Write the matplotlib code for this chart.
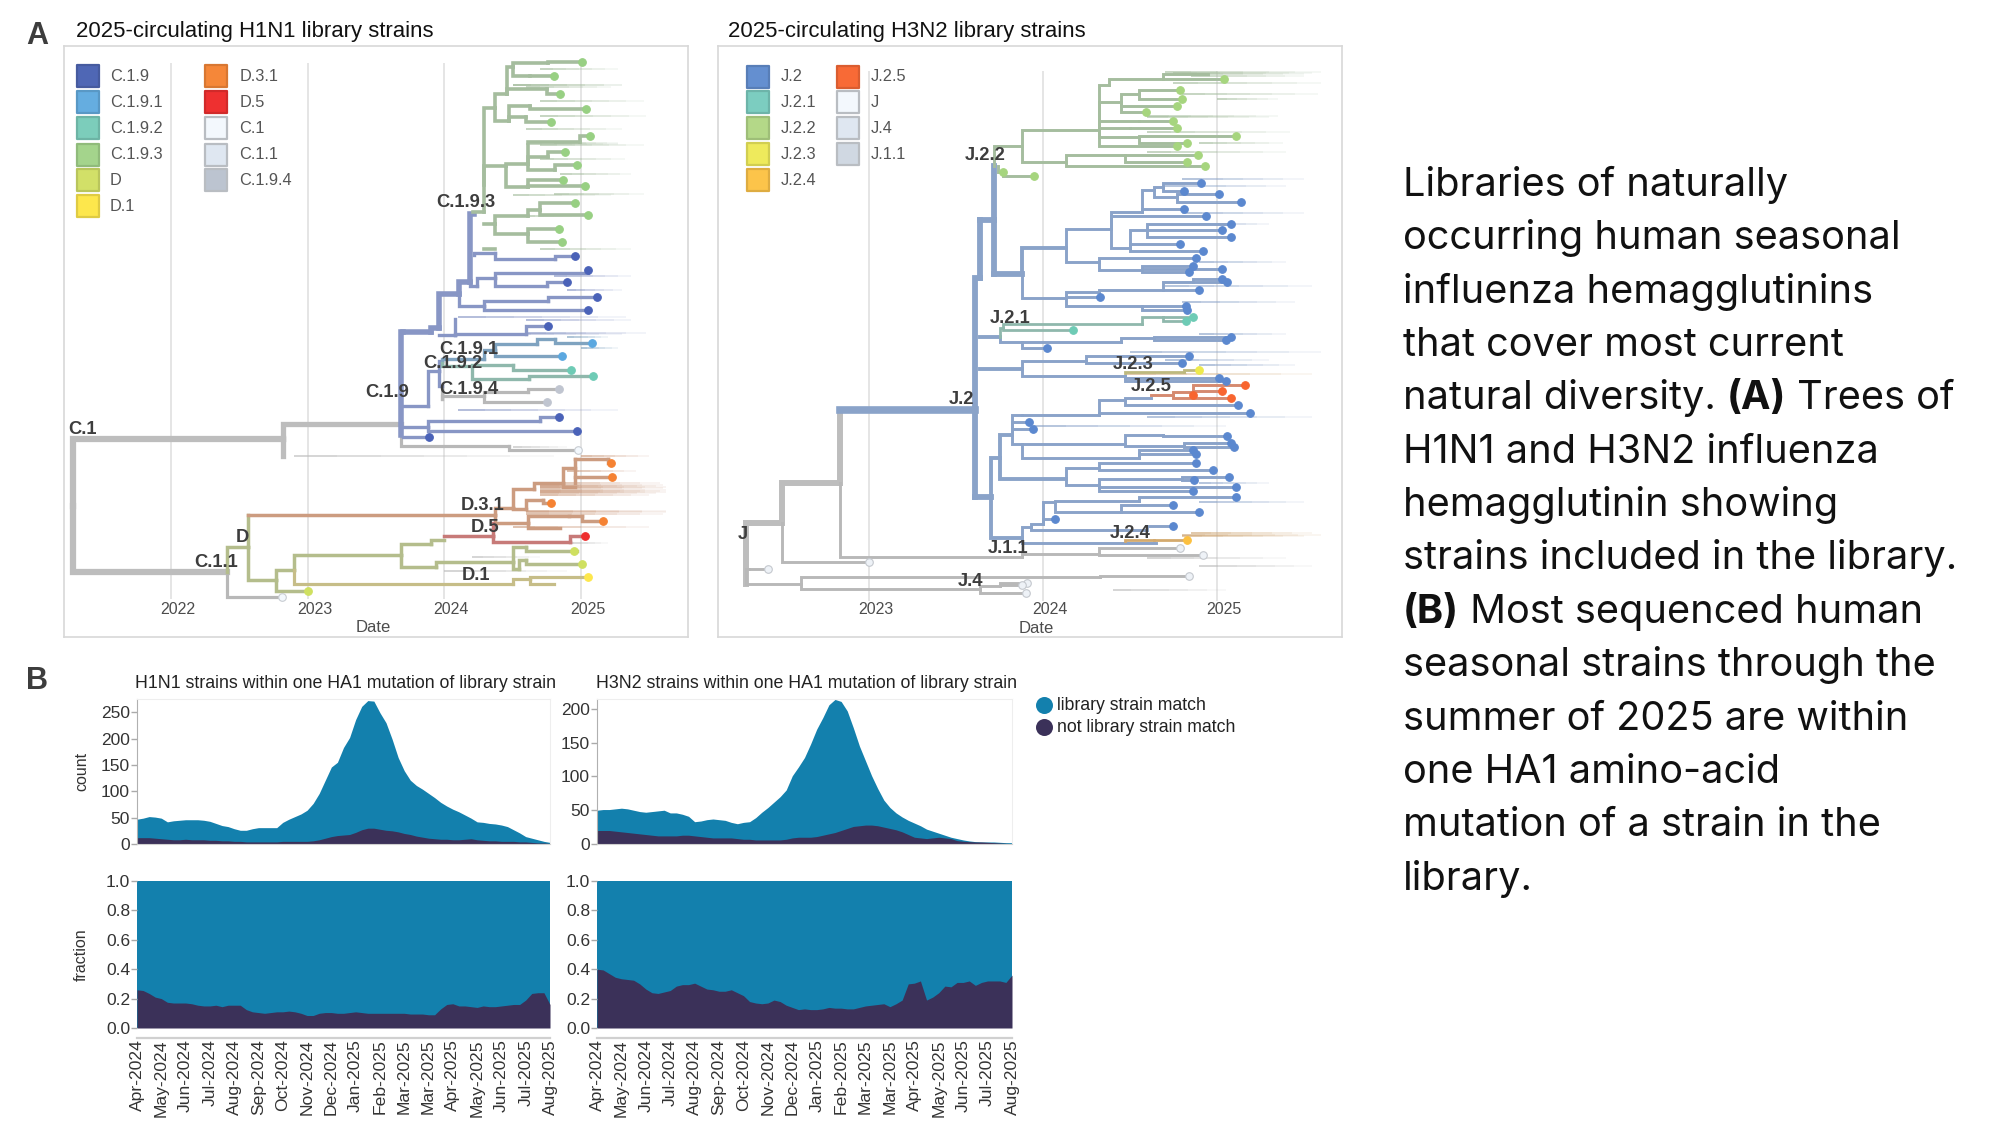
import matplotlib
matplotlib.use('Agg')
import matplotlib.pyplot as plt
import numpy as np

plt.rcParams['font.family'] = ['Liberation Sans', 'DejaVu Sans']

W, H = 2000, 1125

# ---- panel B data: one value per week-ish step, four steps between month labels
month_labels = ['Apr-2024', 'May-2024', 'Jun-2024', 'Jul-2024', 'Aug-2024', 'Sep-2024', 'Oct-2024', 'Nov-2024',
                'Dec-2024', 'Jan-2025', 'Feb-2025', 'Mar-2025', 'Mar-2025', 'Apr-2025', 'May-2025', 'Jun-2025',
                'Jul-2025', 'Aug-2025']

h1_total = [47, 49, 52, 51, 49, 42, 44, 45, 46, 46, 46, 45, 43, 39, 35, 33, 29, 26, 26, 29, 31, 31, 31, 31,
            41, 47, 52, 57, 64, 77, 96, 121, 146, 155, 183, 202, 236, 261, 272, 271, 249, 230, 199, 164,
            139, 121, 111, 104, 96, 88, 79, 72, 66, 61, 55, 49, 42, 41, 39, 38, 36, 33, 27, 21, 14, 11, 8, 5, 3]
h1_nomatch = [12, 12, 12, 11, 10, 9, 8, 8, 9, 8, 8, 8, 7, 7, 6, 6, 5, 5, 4, 4, 4, 4, 4, 4,
              5, 5, 5, 5, 5, 6, 8, 11, 14, 16, 17, 18, 22, 27, 30, 30, 28, 26, 25, 23,
              20, 18, 15, 13, 11, 10, 9, 9, 8, 8, 9, 10, 8, 7, 6, 6, 5, 5, 5, 4, 4, 3, 2, 2, 1]
h1_fraction = [.26, .255, .235, .21, .20, .175, .17, .17, .17, .165, .155, .15, .15, .155, .145, .155,
               .155, .155, .125, .11, .105, .10, .105, .11, .11, .115, .11, .10, .085, .085, .10, .105,
               .105, .10, .10, .105, .11, .105, .10, .10, .10, .10, .10, .10, .10, .095, .095, .095,
               .09, .09, .13, .16, .165, .15, .15, .145, .14, .15, .145, .145, .15, .155, .16, .16,
               .19, .235, .24, .24, .16]

h3_total = [50, 51, 51, 52, 53, 52, 50, 48, 47, 48, 49, 50, 46, 46, 44, 41, 33, 34, 36, 37, 36, 35, 32, 30,
            32, 33, 39, 47, 54, 62, 70, 80, 101, 114, 128, 148, 170, 187, 206, 214, 211, 197, 172, 145,
            123, 101, 82, 65, 54, 46, 40, 35, 31, 27, 22, 19, 16, 13, 10, 8, 6, 4.5, 3.5, 3, 3, 3, 2.5, 2, 2]
h3_nomatch = [20, 20, 20, 19, 18, 17, 16, 15, 14, 13, 12, 12, 12, 12, 13, 13, 12, 11, 10, 9, 9, 9, 9, 8,
              7, 7, 6, 6, 6, 6, 6, 7, 9, 10, 10, 10, 11, 13, 15, 17, 20, 23, 26, 27, 28, 28, 27, 25,
              23, 21, 18, 14, 10, 9, 8, 9, 10, 9, 8, 5, 4, 3.5, 3, 3, 2.5, 2, 1.5, 1, 0.5]
h3_fraction = [.40, .395, .37, .345, .335, .33, .325, .30, .265, .24, .235, .245, .255, .285, .295, .295,
               .305, .285, .265, .26, .25, .25, .26, .24, .22, .18, .17, .165, .17, .19, .18, .155,
               .14, .125, .13, .125, .125, .13, .14, .135, .135, .13, .13, .14, .15, .155, .16, .165,
               .145, .165, .19, .30, .305, .32, .19, .21, .24, .285, .28, .31, .31, .32, .29, .31,
               .32, .32, .32, .31, .36]

# ---- panel A data: branches are (parent date, parent row, date, row), tips are (date, row),
# tails are (start date, end date, row)
h1_years = [2022, 2023, 2024, 2025]
h3_years = [2023, 2024, 2025]

h1_legend_left = ['C.1.9', 'C.1.9.1', 'C.1.9.2', 'C.1.9.3', 'D', 'D.1']
h1_legend_left_colors = ['#4f67b5', '#65ade0', '#7ccdbb', '#a4d48c', '#d2e068', '#fde74c']
h1_legend_right = ['D.3.1', 'D.5', 'C.1', 'C.1.1', 'C.1.9.4']
h1_legend_right_colors = ['#f58739', '#ee3030', '#f3f8fd', '#dfe7f1', '#bcc4d0']
h3_legend_left = ['J.2', 'J.2.1', 'J.2.2', 'J.2.3', 'J.2.4']
h3_legend_left_colors = ['#648fd0', '#7ccdc0', '#b4d888', '#eeea5c', '#fcc44a']
h3_legend_right = ['J.2.5', 'J', 'J.4', 'J.1.1']
h3_legend_right_colors = ['#f86a36', '#f3f8fd', '#dfe7f1', '#d0d8e2']

h1_labels = [('C.1', 2021.35, 1036), ('C.1.1', 2022.33, 1357), ('D', 2022.52, 1297), ('C.1.9', 2023.58, 947),
             ('C.1.9.1', 2024.18, 842), ('C.1.9.2', 2024.06, 877), ('C.1.9.3', 2024.16, 487),
             ('C.1.9.4', 2024.18, 940), ('D.3.1', 2024.28, 1220), ('D.5', 2024.30, 1272), ('D.1', 2024.23, 1388)]
h3_labels = [('J', 2022.275, 1290), ('J.2', 2023.53, 963), ('J.2.1', 2023.81, 768), ('J.2.2', 2023.67, 374),
             ('J.2.3', 2024.52, 879), ('J.2.4', 2024.50, 1288), ('J.2.5', 2024.62, 933), ('J.1.1', 2023.80, 1324),
             ('J.4', 2023.58, 1403)]

h1_grey_root = [(2021.28, 1220, 2022.82, 1060), (2021.28, 1220, 2022.41, 1380)]
h1_grey_mid = [(2022.82, 1060, 2023.68, 1022), (2022.82, 1060, 2022.82, 1100)]
h1_grey = [(2023.68, 1022, 2024.47, 1077), (2024.47, 1077, 2024.98, 1085),
           (2022.41, 1380, 2022.79, 1441), (2023.98, 930, 2023.98, 962), (2023.98, 962, 2024.29, 955),
           (2024.29, 955, 2024.61, 945), (2024.61, 945, 2024.84, 939), (2024.29, 955, 2024.75, 970)]
h1_purple_thick = [(2023.68, 1050, 2023.70, 800), (2023.70, 800, 2023.90, 800), (2023.90, 800, 2023.96, 790),
                   (2023.96, 790, 2024.11, 708), (2024.11, 708, 2024.19, 680), (2024.19, 680, 2024.22, 515)]
h1_purple = [(2023.68, 980, 2023.88, 980), (2023.88, 980, 2023.96, 895), (2023.68, 1030, 2023.88, 1030),
             (2023.88, 1030, 2024.70, 1016), (2024.70, 1016, 2024.84, 1005), (2023.88, 1030, 2024.97, 1039),
             (2023.70, 1054, 2023.90, 1054), (2023.96, 808, 2024.08, 808), (2024.08, 808, 2024.60, 805),
             (2024.08, 808, 2024.08, 770), (2024.60, 805, 2024.76, 787),
             (2024.11, 708, 2024.29, 737), (2024.29, 737, 2024.76, 725), (2024.76, 725, 2025.12, 715),
             (2024.29, 737, 2025.05, 748),
             (2024.19, 680, 2024.24, 690), (2024.24, 690, 2024.37, 670), (2024.37, 670, 2025.05, 658),
             (2024.37, 670, 2024.75, 690), (2024.75, 690, 2024.90, 681),
             (2024.22, 615, 2024.37, 610), (2024.37, 610, 2024.81, 625), (2024.81, 625, 2024.96, 618),
             (2023.96, 895, 2023.98, 870), (2023.96, 895, 2023.98, 930)]
h1_blue = [(2023.98, 870, 2024.29, 865), (2024.29, 865, 2024.37, 845), (2024.37, 845, 2024.68, 830),
           (2024.68, 830, 2024.81, 818), (2024.81, 818, 2025.08, 826), (2024.37, 845, 2024.86, 859)]
h1_teal = [(2023.98, 875, 2024.2, 882), (2024.2, 882, 2024.5, 880), (2024.5, 880, 2024.93, 892),
           (2024.2, 882, 2024.62, 915), (2024.62, 915, 2025.09, 908)]
h1_green = [(2024.21, 510, 2024.29, 510), (2024.29, 510, 2024.37, 260), (2024.37, 260, 2024.46, 225),
            (2024.46, 225, 2024.50, 160), (2024.50, 160, 2024.76, 152), (2024.76, 152, 2025.01, 149),
            (2024.50, 160, 2024.63, 183), (2024.63, 183, 2024.80, 183), (2024.46, 225, 2024.75, 215),
            (2024.75, 215, 2024.85, 226), (2024.37, 260, 2024.47, 290), (2024.47, 290, 2024.63, 255),
            (2024.63, 255, 2025.04, 262), (2024.47, 290, 2024.60, 282), (2024.60, 282, 2024.78, 294),
            (2024.29, 445, 2024.45, 400), (2024.45, 400, 2024.61, 395), (2024.61, 395, 2024.99, 342),
            (2024.99, 342, 2025.07, 327), (2024.61, 395, 2024.76, 378), (2024.76, 378, 2024.88, 365),
            (2024.61, 395, 2024.81, 410), (2024.81, 410, 2024.97, 398), (2024.45, 400, 2024.61, 450),
            (2024.61, 450, 2024.87, 434), (2024.61, 450, 2025.03, 449), (2024.29, 540, 2024.37, 540),
            (2024.37, 540, 2024.61, 520), (2024.61, 520, 2024.70, 505), (2024.70, 505, 2024.96, 488),
            (2024.70, 505, 2025.05, 519), (2024.37, 540, 2024.61, 565), (2024.61, 565, 2024.84, 551),
            (2024.61, 565, 2024.86, 583), (2024.29, 600, 2024.37, 600)]
h1_olive = [(2022.41, 1380, 2022.56, 1320), (2022.56, 1320, 2022.77, 1400), (2022.77, 1400, 2022.90, 1375),
            (2022.90, 1375, 2023.68, 1338), (2022.77, 1400, 2023.0, 1425), (2023.68, 1338, 2023.90, 1312),
            (2023.90, 1312, 2024.0, 1302), (2023.68, 1338, 2023.94, 1368), (2023.94, 1368, 2024.50, 1355),
            (2024.50, 1355, 2024.60, 1320), (2024.60, 1320, 2024.97, 1330), (2024.50, 1355, 2024.55, 1372),
            (2024.55, 1372, 2024.60, 1352), (2024.60, 1352, 2025.01, 1361), (2022.56, 1320, 2022.56, 1242)]
h1_yellow = [(2022.90, 1375, 2024.50, 1408), (2024.50, 1408, 2024.63, 1398), (2024.63, 1398, 2025.05, 1393),
             (2024.63, 1398, 2024.80, 1408)]
h1_orange = [(2022.56, 1242, 2024.37, 1242), (2024.37, 1242, 2024.50, 1225), (2024.50, 1225, 2024.66, 1180),
             (2024.66, 1180, 2024.87, 1165), (2024.87, 1165, 2024.96, 1130), (2024.96, 1108, 2025.20, 1108),
             (2025.20, 1108, 2025.22, 1118), (2024.96, 1150, 2025.22, 1151), (2024.96, 1108, 2024.96, 1165),
             (2024.50, 1225, 2024.60, 1228), (2024.60, 1228, 2024.72, 1205), (2024.72, 1205, 2024.78, 1214),
             (2024.37, 1242, 2024.61, 1262), (2024.61, 1262, 2024.91, 1246), (2024.91, 1246, 2025.01, 1246),
             (2025.01, 1246, 2025.15, 1257), (2024.61, 1262, 2024.85, 1275), (2024.87, 1165, 2024.96, 1175)]
h1_red = [(2024.0, 1294, 2024.36, 1294), (2024.36, 1294, 2024.92, 1308), (2024.92, 1308, 2025.03, 1293),
          (2024.36, 1294, 2024.36, 1262)]

h1_tips_green = [(2025.01, 149), (2024.80, 183), (2024.85, 226), (2025.04, 262), (2024.78, 294), (2025.07, 327),
                 (2024.88, 365), (2024.97, 398), (2024.87, 434), (2025.03, 449), (2024.96, 488), (2025.05, 519),
                 (2024.84, 551), (2024.86, 583)]
h1_tips_purple = [(2024.96, 618), (2025.05, 650), (2024.90, 681), (2025.12, 715), (2025.05, 748), (2024.76, 787),
                  (2024.84, 1005), (2024.97, 1039), (2023.89, 1054)]
h1_tips_blue = [(2025.08, 826), (2024.86, 859)]
h1_tips_teal = [(2024.93, 892), (2025.09, 908)]
h1_tips_grey = [(2024.84, 939), (2024.75, 970)]
h1_tips_orange = [(2025.22, 1118), (2025.23, 1151), (2024.78, 1214), (2025.16, 1257)]
h1_tips_red = [(2025.03, 1293)]
h1_tips_lime = [(2024.95, 1330), (2025.01, 1361), (2023.0, 1425)]
h1_tips_yellow = [(2025.05, 1393)]
h1_tips_pale = [(2024.98, 1085), (2022.81, 1441)]

h1_tails_green = [(2024.7, 2025.27, 165), (2024.5, 2025.3, 203), (2024.5, 2025.3, 205), (2024.6, 2025.22, 208),
                  (2024.7, 2025.46, 243), (2024.7, 2025.48, 278), (2024.6, 2025.3, 310), (2024.8, 2025.27, 345),
                  (2024.6, 2025.27, 347), (2024.7, 2025.46, 350), (2024.7, 2025.32, 383), (2024.85, 2025.37, 420),
                  (2024.8, 2025.46, 467), (2024.5, 2025.22, 470), (2024.7, 2025.37, 600), (2024.6, 2025.0, 520)]
h1_tails_purple = [(2024.8, 2025.37, 665), (2024.9, 2025.3, 700), (2024.1, 2025.33, 765), (2024.6, 2025.37, 772),
                   (2024.6, 2025.48, 803), (2024.3, 2025.3, 805), (2024.1, 2025.27, 988)]
h1_tails_blue = [(2025.0, 2025.27, 838), (2024.9, 2025.2, 812)]
h1_tails_orange = [(2024.7, 2025.58, 1166), (2024.7, 2025.6, 1169), (2024.7, 2025.55, 1172), (2024.7, 2025.62, 1175),
                   (2024.7, 2025.6, 1178), (2024.7, 2025.62, 1181), (2024.7, 2025.58, 1184), (2024.7, 2025.62, 1187),
                   (2024.7, 2025.55, 1190), (2024.7, 2025.5, 1193), (2024.6, 2025.62, 1233), (2024.6, 2025.62, 1236),
                   (2024.6, 2025.6, 1239), (2024.5, 2025.5, 1272), (2025.0, 2025.5, 1100), (2024.9, 2025.4, 1135)]
h1_tails_grey = [(2022.9, 2024.8, 1100), (2024.5, 2024.9, 1078), (2024.0, 2024.9, 1377), (2024.2, 2024.7, 1345),
                 (2024.9, 2025.2, 1310)]

h3_grey_root = [(2022.29, 1408, 2022.29, 1290), (2022.29, 1290, 2022.31, 1262), (2022.31, 1262, 2022.50, 1262),
                (2022.50, 1262, 2022.83, 1165), (2022.83, 1165, 2022.83, 990)]
h3_grey_mid = [(2022.83, 1165, 2023.88, 1343), (2022.50, 1262, 2023.0, 1357), (2022.29, 1408, 2022.31, 1374),
               (2022.31, 1374, 2022.42, 1374), (2022.29, 1408, 2022.61, 1408), (2022.61, 1408, 2024.33, 1393),
               (2024.33, 1393, 2024.84, 1389), (2022.61, 1408, 2023.64, 1420),
               (2023.64, 1420, 2023.90, 1430), (2023.64, 1420, 2023.75, 1415), (2023.75, 1415, 2023.88, 1412),
               (2023.75, 1415, 2023.91, 1406), (2023.88, 1343, 2024.32, 1337), (2024.32, 1337, 2024.79, 1322),
               (2024.32, 1337, 2024.92, 1339)]
h3_blue_thick = [(2022.83, 990, 2023.61, 990)]
h3_blue_trunk = [(2023.61, 990, 2023.64, 670), (2023.64, 670, 2023.64, 530), (2023.64, 530, 2023.72, 530),
                 (2023.72, 530, 2023.72, 400), (2023.72, 530, 2023.72, 660), (2023.72, 660, 2023.88, 660),
                 (2023.61, 990, 2023.61, 1200), (2023.61, 1200, 2023.70, 1200)]
h3_blue_mid = [(2023.88, 660, 2024.13, 597), (2023.70, 1200, 2023.75, 1105), (2023.75, 1105, 2023.82, 1050),
               (2023.75, 1105, 2024.13, 1155), (2023.70, 1200, 2023.88, 1297), (2023.64, 812, 2023.75, 812),
               (2023.64, 890, 2023.88, 890)]
h3_blue = [(2024.13, 597, 2024.39, 552), (2024.39, 552, 2024.57, 510),
           (2024.57, 510, 2024.64, 458), (2024.64, 458, 2024.69, 450), (2024.69, 450, 2024.91, 440),
           (2024.69, 450, 2024.81, 461), (2024.64, 458, 2024.77, 475), (2024.77, 475, 2025.01, 468),
           (2024.77, 475, 2025.14, 487), (2024.57, 510, 2024.81, 503), (2024.39, 552, 2024.50, 597),
           (2024.50, 597, 2024.60, 555), (2024.60, 555, 2025.08, 539), (2024.60, 555, 2025.03, 555),
           (2024.60, 555, 2025.08, 571), (2024.50, 597, 2024.79, 588), (2024.50, 597, 2024.92, 605),
           (2024.39, 552, 2024.94, 521), (2024.13, 597, 2024.32, 632), (2024.32, 632, 2024.88, 622),
           (2024.32, 632, 2024.57, 650), (2024.57, 650, 2024.86, 640), (2024.57, 650, 2024.84, 656),
           (2024.57, 650, 2025.03, 648), (2023.88, 660, 2024.13, 718), (2024.13, 718, 2024.32, 705),
           (2024.32, 705, 2024.69, 700), (2024.69, 700, 2024.90, 700), (2024.69, 700, 2024.86, 680),
           (2024.86, 680, 2025.03, 673), (2024.86, 680, 2025.06, 681), (2024.13, 718, 2024.57, 738),
           (2024.57, 738, 2024.82, 738), (2024.57, 738, 2024.83, 747), (2024.13, 718, 2024.33, 717),
           (2023.75, 812, 2023.88, 825), (2023.88, 825, 2024.45, 825), (2024.45, 825, 2024.64, 815),
           (2024.64, 815, 2025.08, 813), (2024.64, 815, 2025.05, 821), (2023.88, 825, 2024.02, 839),
           (2023.88, 890, 2024.25, 870), (2024.25, 870, 2024.84, 858), (2024.25, 870, 2024.80, 876),
           (2023.88, 890, 2024.47, 908), (2024.47, 908, 2025.01, 912), (2024.47, 908, 2025.05, 920),
           (2023.82, 1050, 2023.88, 1000), (2023.88, 1000, 2024.32, 1000), (2024.32, 1000, 2024.47, 965),
           (2024.47, 965, 2024.62, 960), (2024.47, 965, 2025.12, 977), (2024.32, 1000, 2025.19, 995),
           (2023.82, 1050, 2023.92, 1018), (2023.82, 1050, 2023.94, 1035), (2023.82, 1050, 2023.88, 1070),
           (2023.88, 1070, 2024.47, 1070), (2024.47, 1070, 2024.69, 1050), (2024.69, 1050, 2025.06, 1052),
           (2024.47, 1070, 2024.81, 1075), (2024.81, 1075, 2025.08, 1069), (2024.81, 1075, 2025.10, 1078),
           (2023.88, 1070, 2024.55, 1105), (2024.55, 1105, 2024.86, 1086), (2024.55, 1105, 2024.88, 1094),
           (2024.13, 1155, 2024.32, 1130), (2024.32, 1130, 2024.88, 1117), (2024.32, 1130, 2024.98, 1133),
           (2024.13, 1155, 2024.32, 1170), (2024.32, 1170, 2024.80, 1155), (2024.80, 1155, 2025.07, 1151),
           (2024.80, 1155, 2024.87, 1158), (2024.32, 1170, 2025.11, 1176), (2024.32, 1170, 2024.86, 1184),
           (2023.88, 1297, 2023.93, 1272), (2023.93, 1272, 2024.0, 1265), (2024.0, 1265, 2024.07, 1212),
           (2024.07, 1212, 2024.55, 1208), (2024.55, 1208, 2025.11, 1200), (2024.07, 1212, 2024.45, 1235),
           (2024.45, 1235, 2024.75, 1219), (2024.45, 1235, 2024.90, 1236), (2024.0, 1265, 2024.07, 1252),
           (2023.93, 1272, 2024.60, 1278), (2024.60, 1278, 2024.75, 1270), (2023.88, 1297, 2024.65, 1310)]
h3_teal = [(2023.75, 812, 2023.77, 790), (2023.77, 790, 2024.17, 795), (2023.77, 790, 2024.57, 782),
           (2024.57, 782, 2024.69, 765), (2024.69, 765, 2024.86, 764), (2024.69, 765, 2024.82, 773)]
h3_yellow = [(2024.47, 900, 2024.81, 897), (2024.81, 897, 2024.90, 893)]
h3_red = [(2024.62, 952, 2024.75, 952), (2024.75, 952, 2024.86, 945), (2024.86, 945, 2025.16, 928),
          (2024.86, 945, 2025.03, 944), (2024.75, 952, 2025.08, 960)]
h3_amber = [(2024.47, 1305, 2024.64, 1303), (2024.64, 1303, 2024.83, 1302)]
h3_green = [(2023.72, 400, 2023.74, 352), (2023.74, 352, 2023.88, 352), (2023.74, 400, 2023.77, 415),
            (2023.77, 415, 2023.95, 424), (2023.88, 352, 2024.32, 312), (2023.88, 352, 2024.13, 390),
            (2024.13, 390, 2024.47, 372), (2024.47, 372, 2024.89, 374), (2024.47, 372, 2024.83, 391),
            (2024.13, 390, 2024.93, 399), (2024.32, 312, 2024.38, 205), (2024.38, 205, 2024.69, 190),
            (2024.69, 190, 2025.04, 190), (2024.69, 190, 2024.95, 178), (2024.32, 312, 2024.45, 245),
            (2024.45, 245, 2024.55, 225), (2024.55, 225, 2024.79, 216), (2024.55, 225, 2024.80, 237),
            (2024.45, 245, 2024.77, 254), (2024.45, 245, 2024.59, 270), (2024.32, 312, 2024.55, 290),
            (2024.55, 290, 2024.75, 292), (2024.32, 312, 2024.5, 309), (2024.5, 309, 2024.77, 309),
            (2024.32, 312, 2024.55, 330), (2024.55, 330, 2025.11, 327), (2024.55, 330, 2024.83, 344),
            (2024.32, 312, 2024.77, 352)]

h3_tips_blue = [(2024.91, 440), (2024.81, 461), (2025.01, 468), (2025.14, 487), (2024.81, 503), (2024.94, 521),
                (2025.08, 539), (2025.03, 555), (2025.08, 571), (2024.79, 588), (2024.92, 605), (2024.88, 622),
                (2024.86, 640), (2025.03, 648), (2024.84, 656), (2025.03, 673), (2025.06, 681), (2024.90, 700),
                (2024.33, 717), (2024.82, 738), (2024.83, 747), (2025.08, 813), (2025.05, 821), (2024.02, 839),
                (2024.84, 858), (2024.80, 876), (2025.01, 912), (2025.05, 920), (2025.12, 977), (2025.19, 995),
                (2023.92, 1018), (2023.94, 1035), (2025.06, 1052), (2025.08, 1069), (2025.10, 1078),
                (2024.86, 1086), (2024.88, 1094), (2024.88, 1117), (2024.98, 1133), (2025.07, 1151),
                (2024.87, 1158), (2025.11, 1176), (2024.86, 1184), (2025.11, 1200), (2024.75, 1219),
                (2024.90, 1236), (2024.07, 1252), (2024.75, 1270)]
h3_tips_green = [(2025.04, 190), (2024.79, 216), (2024.80, 237), (2024.77, 254), (2024.59, 270), (2024.75, 292),
                 (2024.77, 309), (2025.11, 327), (2024.83, 344), (2024.77, 352), (2024.89, 374), (2024.83, 391),
                 (2024.93, 399), (2023.77, 415), (2023.95, 424)]
h3_tips_teal = [(2024.86, 764), (2024.82, 773), (2024.17, 795)]
h3_tips_yellow = [(2024.90, 893)]
h3_tips_red = [(2025.16, 928), (2025.03, 944), (2024.86, 952), (2025.08, 960)]
h3_tips_amber = [(2024.83, 1302)]
h3_tips_grey = [(2024.79, 1322), (2024.92, 1339), (2023.0, 1357), (2022.42, 1374), (2024.84, 1389),
                (2023.91, 1406), (2023.88, 1412), (2023.90, 1430)]

h3_tails_green = [(2024.7, 2025.6, 172), (2024.75, 2025.55, 175), (2024.8, 2025.5, 178), (2024.85, 2025.5, 183),
                  (2024.75, 2025.6, 200), (2024.8, 2025.58, 225), (2025.0, 2025.35, 238), (2024.6, 2025.35, 278),
                  (2024.6, 2025.3, 282), (2024.6, 2025.42, 318), (2024.6, 2025.4, 365), (2024.9, 2025.38, 345)]
h3_tails_blue = [(2024.8, 2025.5, 432), (2024.7, 2025.4, 448), (2024.8, 2025.5, 513), (2024.9, 2025.3, 540),
                 (2024.9, 2025.4, 632), (2024.7, 2025.55, 690), (2024.8, 2025.45, 728), (2024.9, 2025.4, 805),
                 (2024.5, 2025.6, 848), (2024.9, 2025.45, 880), (2024.7, 2025.3, 868), (2024.6, 2025.55, 1005),
                 (2023.95, 2025.05, 1027), (2024.9, 2025.3, 1166), (2024.9, 2025.5, 1210)]
h3_tails_amber = [(2024.8, 2025.6, 1290), (2024.85, 2025.55, 1287), (2024.8, 2025.5, 1293), (2024.47, 2025.55, 902)]
h3_tails_grey = [(2024.9, 2025.55, 1366), (2024.6, 2025.4, 1347), (2024.4, 2025.05, 1423)]

caption = [
    [('Libraries of naturally', False)],
    [('occurring human seasonal', False)],
    [('influenza hemagglutinins', False)],
    [('that cover most current', False)],
    [('natural diversity. ', False), ('(A)', True), (' Trees of', False)],
    [('H1N1 and H3N2 influenza', False)],
    [('hemagglutinin showing', False)],
    [('strains included in the library.', False)],
    [('(B)', True), (' Most sequenced human', False)],
    [('seasonal strains through the', False)],
    [('summer of 2025 are within', False)],
    [('one HA1 amino-acid', False)],
    [('mutation of a strain in the', False)],
    [('library.', False)],
]

BLUE = '#1380ad'
PURPLE = '#3b3159'
GREY_TXT = '#555555'
LINE_GREY = '#bdbdbd'
LINE_PURPLE = '#8896c5'
LINE_GREEN = '#a5bd9e'
LINE_H3BLUE = '#8aa3c9'
CAPTION_FONT = ['Inter', 'DejaVu Sans']
CAPTION_SIZE = 28.6


def place(x0, y0, x1, y1):
    # pixel box (top-left origin) to a new axes
    return fig.add_axes([x0 / W, 1 - y1 / H, (x1 - x0) / W, (y1 - y0) / H])


def draw_branches(ax, branches, color, lw):
    for x0, y0, x1, y1 in branches:
        ax.plot([x0, x0, x1], [y0, y1, y1], color=color, lw=lw, solid_capstyle='projecting',
                solid_joinstyle='miter', zorder=3)


def draw_tips(ax, tips, color, edge=None, size=30):
    xs = [t[0] for t in tips]
    ys = [t[1] for t in tips]
    ax.scatter(xs, ys, s=size, color=color, edgecolors=edge if edge else color, linewidths=0.8, zorder=5)


def draw_tails(ax, tails, color):
    # fade each tail out towards its end
    steps = 6
    for x0, x1, row in tails:
        for k in range(steps):
            a = x0 + (x1 - x0) * k / steps
            b = x0 + (x1 - x0) * (k + 1) / steps
            ax.plot([a, b], [row, row], color=color, lw=1.1, alpha=0.8 * (1 - k / steps),
                    solid_capstyle='butt', zorder=2)


def draw_legend(ax, x_box, x_text, names, colors, rows):
    for name, c, r in zip(names, colors, rows):
        edge = tuple(np.array(matplotlib.colors.to_rgb(c)) * 0.88)
        if c in ('#f3f8fd', '#dfe7f1', '#d0d8e2', '#bcc4d0'):
            edge = '#b9bdc2'
        ax.scatter([x_box], [r], marker='s', s=235, color=c, edgecolors=[edge], linewidths=1.6, zorder=6)
        ax.text(x_text, r, name, fontsize=11.8, color=GREY_TXT, va='center', ha='left')


def setup_tree(ax, xlim, years, y_top, y_bottom, label_offset):
    ax.set_xlim(*xlim)
    ax.set_ylim(1537, 110)
    ax.set_xticks([])
    ax.set_yticks([])
    for s in ax.spines.values():
        s.set_color('#d8d8d8')
        s.set_linewidth(1.2)
    ax.vlines(years, y_top, y_bottom, color='#e3e3e3', lw=1.3, zorder=1)
    for y in years:
        ax.text(y + label_offset, 1470, str(y), fontsize=11.5, color='#4d4d4d', ha='center', va='center')


def setup_area(ax, ymax, yticks, ylabel, ticklabels=None):
    ax.set_xlim(0, len(h1_total) - 1)
    ax.set_ylim(0, ymax)
    ax.set_yticks(yticks)
    ax.tick_params(axis='y', labelsize=12.5, colors='#333333', length=4, width=1, color='#aaaaaa', pad=1)
    ax.set_ylabel(ylabel, fontsize=11.5, color='#333333', labelpad=0)
    ax.yaxis.set_label_coords(-0.116, 0.5)
    for s in ['top', 'right']:
        ax.spines[s].set_color('#eeeeee')
    ax.spines['left'].set_color('#b0b0b0')
    ax.spines['bottom'].set_color('#d0d0d0')
    ax.set_xticks(np.arange(0, len(h1_total), 4))
    if ticklabels is None:
        ax.set_xticklabels([])
        ax.tick_params(axis='x', length=0)
    else:
        ax.set_xticklabels(ticklabels)
        ax.tick_params(axis='x', length=0, pad=1, labelrotation=90, labelsize=12.6, labelcolor='#333333')
        ax.spines['bottom'].set_position(('outward', 7))
        ax.spines['bottom'].set_linewidth(1.6)
        for s in ['top', 'right', 'left']:
            ax.spines[s].set_visible(False)


fig = plt.figure(figsize=(W / 100, H / 100), dpi=100)

# ---- tree H1N1
ax1 = place(64, 46, 688, 637)
setup_tree(ax1, (2021.216, 2025.784), h1_years, 150, 1445, 0.05)
draw_tails(ax1, h1_tails_green, LINE_GREEN)
draw_tails(ax1, h1_tails_purple, LINE_PURPLE)
draw_tails(ax1, h1_tails_blue, '#7fa3c0')
draw_tails(ax1, h1_tails_orange, '#cc9c80')
draw_tails(ax1, h1_tails_grey, LINE_GREY)
draw_branches(ax1, h1_grey_root, LINE_GREY, 4.5)
draw_branches(ax1, h1_grey_mid, LINE_GREY, 3.8)
draw_branches(ax1, h1_grey, '#b8b8b8', 2.3)
draw_branches(ax1, h1_purple_thick, LINE_PURPLE, 4.0)
draw_branches(ax1, h1_purple, LINE_PURPLE, 2.4)
draw_branches(ax1, h1_blue, '#7fa3c0', 2.4)
draw_branches(ax1, h1_teal, '#8fb8ac', 2.4)
draw_branches(ax1, h1_green, LINE_GREEN, 2.6)
draw_branches(ax1, h1_olive, '#b4bd8c', 2.5)
draw_branches(ax1, h1_yellow, '#c6bd88', 2.3)
draw_branches(ax1, h1_orange, '#cc9c80', 2.5)
draw_branches(ax1, h1_red, '#c77a78', 2.5)
draw_tips(ax1, h1_tips_green, '#98d083')
draw_tips(ax1, h1_tips_purple, '#4a62b8')
draw_tips(ax1, h1_tips_blue, '#5ba8e0')
draw_tips(ax1, h1_tips_teal, '#6ecbb5')
draw_tips(ax1, h1_tips_grey, '#c0c5d0')
draw_tips(ax1, h1_tips_orange, '#f58233')
draw_tips(ax1, h1_tips_red, '#ee2e2e')
draw_tips(ax1, h1_tips_lime, '#cfe060')
draw_tips(ax1, h1_tips_yellow, '#fde74c')
draw_tips(ax1, h1_tips_pale, '#f3f8fd', edge='#c8ccd2')
draw_legend(ax1, 2021.39, 2021.55, h1_legend_left, h1_legend_left_colors, [183, 246, 309, 372, 434, 497])
draw_legend(ax1, 2022.33, 2022.50, h1_legend_right, h1_legend_right_colors, [183, 246, 309, 372, 434])
for name, x, y in h1_labels:
    ax1.text(x, y, name, fontsize=13.2, fontweight='bold', color='#3d3d3d', ha='center', va='center', zorder=7)
ax1.text(0.495, 1514, 'Date', transform=ax1.get_yaxis_transform(), fontsize=12, color='#4d4d4d', ha='center', va='center')

# ---- tree H3N2
ax2 = place(718, 46, 1342, 637)
setup_tree(ax2, (2022.13, 2025.72), h3_years, 170, 1450, 0.04)
draw_tails(ax2, h3_tails_green, LINE_GREEN)
draw_tails(ax2, h3_tails_blue, LINE_H3BLUE)
draw_tails(ax2, h3_tails_amber, '#cfa878')
draw_tails(ax2, h3_tails_grey, LINE_GREY)
draw_branches(ax2, h3_grey_root, LINE_GREY, 4.3)
draw_branches(ax2, h3_grey_mid, '#b8b8b8', 2.1)
draw_branches(ax2, h3_blue_thick, LINE_H3BLUE, 5.5)
draw_branches(ax2, h3_blue_trunk, LINE_H3BLUE, 4.2)
draw_branches(ax2, h3_blue_mid, LINE_H3BLUE, 2.8)
draw_branches(ax2, h3_blue, LINE_H3BLUE, 2.1)
draw_branches(ax2, h3_teal, '#8fb8ac', 2.0)
draw_branches(ax2, h3_yellow, '#bdb97e', 2.0)
draw_branches(ax2, h3_red, '#d58a70', 2.1)
draw_branches(ax2, h3_amber, '#d4aa6e', 2.0)
draw_branches(ax2, h3_green, LINE_GREEN, 2.1)
draw_tips(ax2, h3_tips_blue, '#5b88cf')
draw_tips(ax2, h3_tips_green, '#a6d57e')
draw_tips(ax2, h3_tips_teal, '#6ecbb5')
draw_tips(ax2, h3_tips_yellow, '#eeea4c')
draw_tips(ax2, h3_tips_red, '#f8652f')
draw_tips(ax2, h3_tips_amber, '#fcc040')
draw_tips(ax2, h3_tips_grey, '#eef2f7', edge='#c4c8ce')
draw_legend(ax2, 2022.36, 2022.49, h3_legend_left, h3_legend_left_colors, [184, 246, 308, 371, 434])
draw_legend(ax2, 2022.88, 2023.01, h3_legend_right, h3_legend_right_colors, [184, 246, 308, 371])
for name, x, y in h3_labels:
    ax2.text(x, y, name, fontsize=13.2, fontweight='bold', color='#3d3d3d', ha='center', va='center', zorder=7)
ax2.text(0.51, 1516, 'Date', transform=ax2.get_yaxis_transform(), fontsize=12, color='#4d4d4d', ha='center', va='center')

# ---- area charts
weeks = np.arange(len(h1_total))

ax3 = place(137, 699, 550, 844)
ax3.fill_between(weeks, 0, h1_total, color=BLUE, lw=0)
ax3.fill_between(weeks, 0, h1_nomatch, color=PURPLE, lw=0)
setup_area(ax3, 275, [0, 50, 100, 150, 200, 250], 'count')

ax4 = place(137, 881, 550, 1028)
ax4.fill_between(weeks, 0, 1, color=BLUE, lw=0)
ax4.fill_between(weeks, 0, h1_fraction, color=PURPLE, lw=0)
setup_area(ax4, 1, [0, 0.2, 0.4, 0.6, 0.8, 1.0], 'fraction', month_labels)

ax5 = place(597, 699, 1012, 844)
ax5.fill_between(weeks, 0, h3_total, color=BLUE, lw=0)
ax5.fill_between(weeks, 0, h3_nomatch, color=PURPLE, lw=0)
setup_area(ax5, 214.6, [0, 50, 100, 150, 200], '')

ax6 = place(597, 881, 1012, 1028)
ax6.fill_between(weeks, 0, 1, color=BLUE, lw=0)
ax6.fill_between(weeks, 0, h3_fraction, color=PURPLE, lw=0)
setup_area(ax6, 1, [0, 0.2, 0.4, 0.6, 0.8, 1.0], '', month_labels)

# ---- figure level text (positions in pixels, top-left origin)


def put(x, y, s, **kw):
    return fig.text(x / W, 1 - y / H, s, **kw)


put(37, 36, 'A', fontsize=22, fontweight='bold', color='#3d3d3d', ha='center', va='center')
put(37, 681, 'B', fontsize=22, fontweight='bold', color='#3d3d3d', ha='center', va='center')
put(76, 32, '2025-circulating H1N1 library strains', fontsize=15.9, color='#111111', va='center')
put(728, 32, '2025-circulating H3N2 library strains', fontsize=15.9, color='#111111', va='center')
put(135, 684, 'H1N1 strains within one HA1 mutation of library strain', fontsize=12.75, color='#222222', va='center')
put(596, 684, 'H3N2 strains within one HA1 mutation of library strain', fontsize=12.75, color='#222222', va='center')

ax_legend = fig.add_axes([0, 0, 1, 1], facecolor='none')
ax_legend.set_xlim(0, W)
ax_legend.set_ylim(H, 0)
ax_legend.axis('off')
ax_legend.scatter([1044], [705], s=150, color=BLUE, lw=0)
ax_legend.scatter([1044], [727], s=150, color=PURPLE, lw=0)
put(1057, 705, 'library strain match', fontsize=12.7, color='#222222', va='center')
put(1057, 727, 'not library strain match', fontsize=12.7, color='#222222', va='center')

# caption, with the bold parts measured so the line keeps running
renderer = fig.canvas.get_renderer()


def text_width(s, bold):
    # wrap in x so edge spaces count
    weight = 'bold' if bold else 'normal'
    a = put(0, 0, 'x' + s + 'x', fontsize=CAPTION_SIZE, family=CAPTION_FONT, fontweight=weight)
    b = put(0, 0, 'xx', fontsize=CAPTION_SIZE, family=CAPTION_FONT, fontweight=weight)
    w = a.get_window_extent(renderer).width - b.get_window_extent(renderer).width
    a.remove()
    b.remove()
    return w


for i, pieces in enumerate(caption):
    x = 1403
    y = 196 + i * 53.35
    for piece, bold in pieces:
        put(x, y, piece, fontsize=CAPTION_SIZE, family=CAPTION_FONT,
            fontweight='bold' if bold else 'normal', color='#111111', va='baseline', ha='left')
        x += text_width(piece, bold)

fig.savefig('out.png', dpi=100)
